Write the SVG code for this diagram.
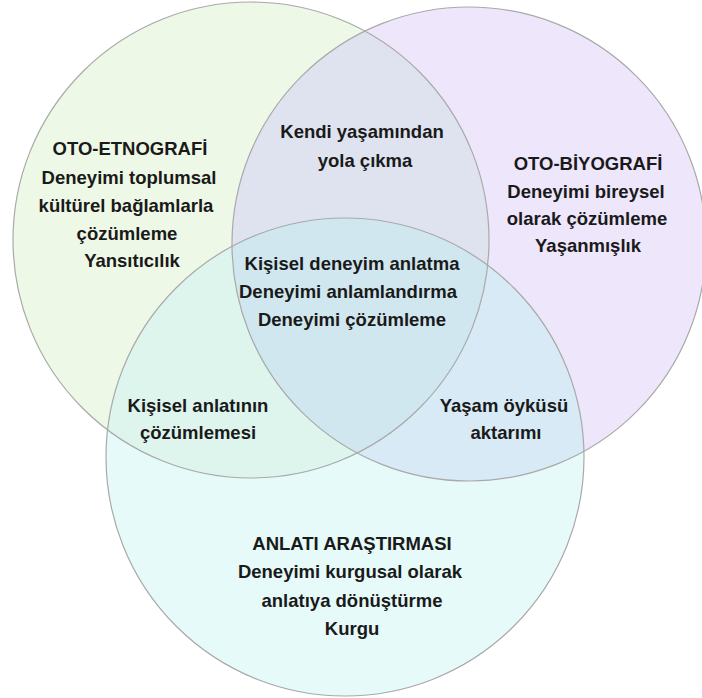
<svg xmlns="http://www.w3.org/2000/svg" width="702" height="698" viewBox="0 0 702 698">
  <style>
    text { font-family: "Liberation Sans", Arial, sans-serif; font-weight: bold; font-size: 18.5px; fill: #1a1a1a; text-anchor: middle; }
    .ring { fill: none; stroke: #a9a9a9; stroke-width: 1.2; }
  </style>
  <defs>
    <circle id="cA" cx="251" cy="240" r="238"/>
    <circle id="cB" cx="469" cy="244" r="237"/>
    <circle id="cC" cx="345" cy="457" r="239"/>
    <clipPath id="clipA"><use href="#cA"/></clipPath>
    <clipPath id="clipB"><use href="#cB"/></clipPath>
    <clipPath id="clipC"><use href="#cC"/></clipPath>
  </defs>
  <rect width="702" height="698" fill="#ffffff"/>

  <g id="fills">
    <use href="#cA" fill="#eef8e6"/>
    <use href="#cB" fill="#eee7fb"/>
    <use href="#cC" fill="#e6fbf9"/>
    <g clip-path="url(#clipA)"><use href="#cB" fill="#dee3ef"/></g>
    <g clip-path="url(#clipA)"><use href="#cC" fill="#def5ed"/></g>
    <g clip-path="url(#clipB)"><use href="#cC" fill="#d7eaf5"/></g>
    <g clip-path="url(#clipA)"><g clip-path="url(#clipB)"><use href="#cC" fill="#d0e7ef"/></g></g>
  </g>

  <g id="oto-etnografi">
    <use href="#cA" class="ring"/>
    <text x="130" y="155">OTO-ETNOGRAFİ</text>
    <text x="129" y="184">Deneyimi toplumsal</text>
    <text x="126" y="212">kültürel bağlamlarla</text>
    <text x="127" y="240">çözümleme</text>
    <text x="132" y="267">Yansıtıcılık</text>
  </g>

  <g id="oto-biyografi">
    <use href="#cB" class="ring"/>
    <text x="588" y="170">OTO-BİYOGRAFİ</text>
    <text x="586" y="198">Deneyimi bireysel</text>
    <text x="587" y="225">olarak çözümleme</text>
    <text x="588" y="252">Yaşanmışlık</text>
  </g>

  <g id="anlati-arastirmasi">
    <use href="#cC" class="ring"/>
    <text x="352" y="550">ANLATI ARAŞTIRMASI</text>
    <text x="350" y="578">Deneyimi kurgusal olarak</text>
    <text x="352" y="607">anlatıya dönüştürme</text>
    <text x="352" y="635">Kurgu</text>
  </g>

  <g id="kendi-yasamindan">
    <text x="362" y="138">Kendi yaşamından</text>
    <text x="365" y="167">yola çıkma</text>
  </g>

  <g id="kisisel-deneyim">
    <text x="352" y="270">Kişisel deneyim anlatma</text>
    <text x="348" y="298">Deneyimi anlamlandırma</text>
    <text x="352" y="326">Deneyimi çözümleme</text>
  </g>

  <g id="kisisel-anlatinin">
    <text x="198" y="412">Kişisel anlatının</text>
    <text x="198" y="439">çözümlemesi</text>
  </g>

  <g id="yasam-oykusu">
    <text x="504" y="412">Yaşam öyküsü</text>
    <text x="506" y="439">aktarımı</text>
  </g>

  <g id="connectors"></g>
</svg>
